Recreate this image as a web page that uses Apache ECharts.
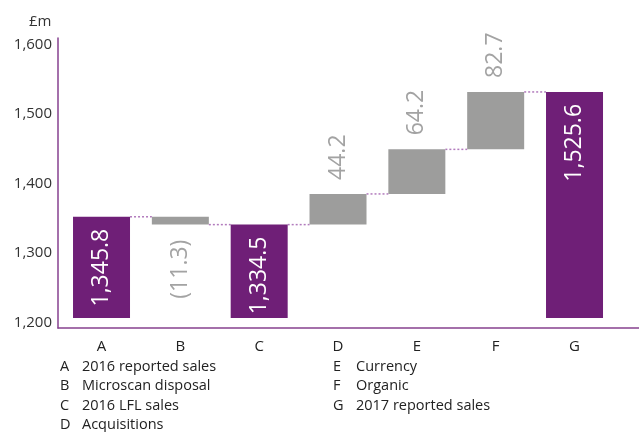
<!DOCTYPE html>
<html>
<head>
<meta charset="utf-8">
<script src="https://cdn.jsdelivr.net/npm/echarts@6/dist/echarts.min.js"></script>
<style>
  html, body { margin: 0; padding: 0; background: #fff; }
  #chart { width: 639px; height: 432px; }
</style>
</head>
<body>
<div id="chart"></div>
<script>
// Sales bridge 2016 -> 2017 (£m)
const categories = ['A', 'B', 'C', 'D', 'E', 'F', 'G'];
const categoryNames = ['2016 reported sales', 'Microscan disposal', '2016 LFL sales', 'Acquisitions',
                       'Currency', 'Organic', '2017 reported sales'];
// totals are absolute levels, the rest are movements
const stepValues = [1345.8, -11.3, 1334.5, 44.2, 64.2, 82.7, 1525.6];
const isTotal = [true, false, true, false, false, false, true];
const yTicks = [1200, 1300, 1400, 1500, 1600];
const baseLevel = 1200;

const PURPLE = '#6f1f77';
const GREY = '#9d9d9c';
const FONT = 'Open Sans';

// start/end of each bar along the value axis
const barRows = [];
let running = 0;
stepValues.forEach(function (v, i) {
  let s, e;
  if (isTotal[i]) { s = baseLevel; e = v; running = v; }
  else { s = running; e = running + v; running = e; }
  barRows.push([i, s, e, v, isTotal[i] ? 1 : 0]);
});
const connectorRows = [];
for (let i = 0; i < barRows.length - 1; i++) {
  connectorRows.push([i, barRows[i][2]]);
}

function fmtNum(v) {
  const a = Math.abs(v);
  const parts = a.toFixed(1).split('.');
  const txt = parts[0].replace(/\B(?=(\d{3})+(?!\d))/g, ',') + '.' + parts[1];
  return v < 0 ? '(' + txt + ')' : txt;
}
function fmtTick(v) {
  return String(Math.round(v)).replace(/\B(?=(\d{3})+(?!\d))/g, ',');
}

const BAR_W = 0.723; // in category units
const LABEL_FONT = '23px "' + FONT + '"';

const chart = echarts.init(document.getElementById('chart'));

const graphics = [{
  type: 'text', left: 29, top: 14,
  style: { text: '£m', font: '15px "' + FONT + '"', fill: '#333' }
}];
categories.forEach(function (c, i) {
  const col = i < 4 ? 0 : 1;
  const row = i < 4 ? i : i - 4;
  const y = 359 + row * 19.6;
  graphics.push({ type: 'text', left: col ? 333 : 60, top: y,
    style: { text: c, font: '14.5px "' + FONT + '"', fill: '#222' } });
  graphics.push({ type: 'text', left: col ? 356 : 82, top: y,
    style: { text: categoryNames[i], font: '14.5px "' + FONT + '"', fill: '#222' } });
});

chart.setOption({
  animation: false,
  grid: { left: 58, right: 0, top: 38, bottom: 104 },
  xAxis: {
    type: 'value', min: -0.552, max: 6.818,
    axisLine: { show: true, onZero: false, lineStyle: { color: '#86418f', width: 1.5 } },
    axisTick: { show: false },
    splitLine: { show: false },
    axisLabel: {
      customValues: [0, 1, 2, 3, 4, 5, 6],
      formatter: function (v) { return categories[Math.round(v)]; },
      margin: 11, fontSize: 15, fontFamily: FONT, color: '#222'
    }
  },
  yAxis: {
    type: 'value', min: 1185.6, max: 1603.3,
    axisLine: { show: true, onZero: false, lineStyle: { color: '#86418f', width: 1.5 } },
    axisTick: { show: false },
    splitLine: { show: false },
    axisLabel: {
      customValues: yTicks,
      formatter: function (v) { return '{t|' + fmtTick(v) + '}'; },
      margin: 6,
      rich: { t: { fontSize: 15, fontFamily: FONT, color: '#333', padding: [9, 0, 0, 0] } }
    }
  },
  graphic: graphics,
  series: [{
    type: 'custom',
    data: connectorRows,
    z: 1,
    renderItem: function (params, api) {
      const i = api.value(0), lvl = api.value(1);
      const half = api.size([BAR_W, 0])[0] / 2;
      const a = api.coord([i, lvl]);
      const b = api.coord([i + 1, lvl]);
      return {
        type: 'line',
        shape: { x1: a[0] + half, y1: a[1], x2: b[0] - half, y2: b[1] },
        style: { stroke: '#b27bbd', lineWidth: 1.5, lineDash: [2, 2] }
      };
    }
  }, {
    type: 'custom',
    data: barRows,
    z: 2,
    renderItem: function (params, api) {
      const i = api.value(0), s = api.value(1), e = api.value(2), v = api.value(3);
      const total = api.value(4) === 1;
      const p0 = api.coord([i, s]);
      const p1 = api.coord([i, e]);
      const w = api.size([BAR_W, 0])[0];
      const top = Math.min(p0[1], p1[1]);
      const bottom = Math.max(p0[1], p1[1]);
      const label = fmtNum(v);
      let text;
      if (total) {
        text = { type: 'text', x: p0[0], y: top + 12, rotation: Math.PI / 2,
          style: { text: label, fill: '#fff', font: LABEL_FONT, align: 'right', verticalAlign: 'middle' } };
      } else if (v >= 0) {
        text = { type: 'text', x: p0[0], y: top - 14, rotation: Math.PI / 2,
          style: { text: label, fill: '#a3a3a3', font: LABEL_FONT, align: 'left', verticalAlign: 'middle' } };
      } else {
        text = { type: 'text', x: p0[0], y: bottom + 15, rotation: Math.PI / 2,
          style: { text: label, fill: '#a3a3a3', font: LABEL_FONT, align: 'right', verticalAlign: 'middle' } };
      }
      return {
        type: 'group',
        children: [{
          type: 'rect',
          shape: { x: p0[0] - w / 2, y: top, width: w, height: bottom - top },
          style: { fill: total ? PURPLE : GREY }
        }, text]
      };
    }
  }]
});
</script>
</body>
</html>
